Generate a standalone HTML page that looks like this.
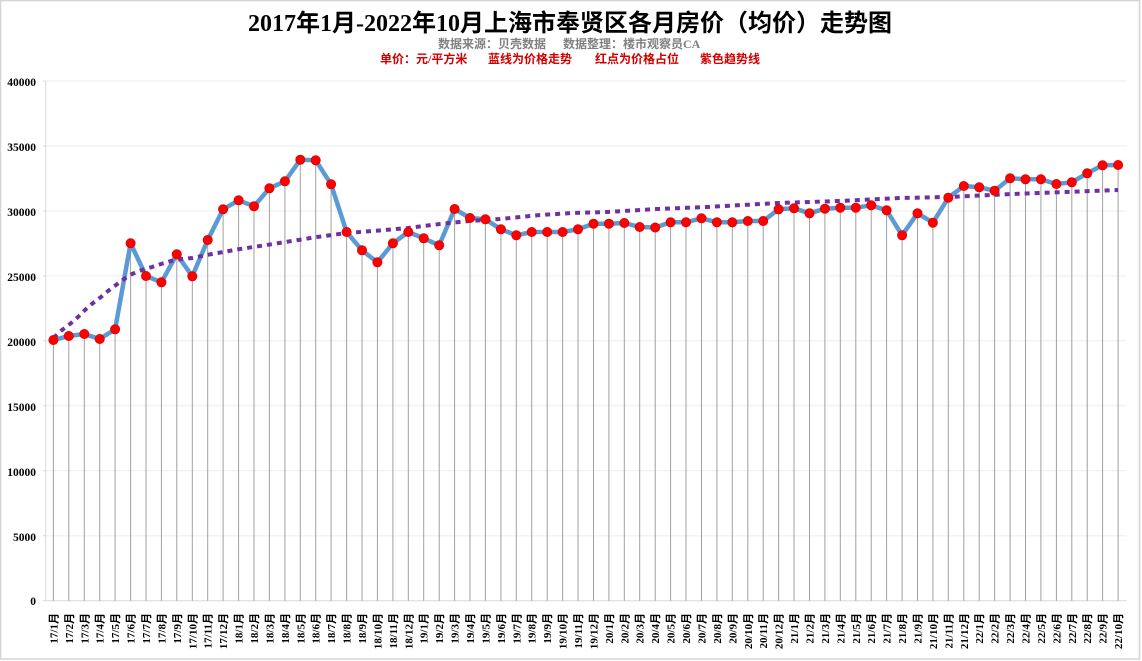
<!DOCTYPE html>
<html><head><meta charset="utf-8"><style>
html,body{margin:0;padding:0;background:#fff;}
svg{display:block;}
.t{font-family:"Liberation Serif","Noto Sans CJK SC",serif;font-weight:bold;}
.c{font-family:"Liberation Serif","Noto Sans CJK SC",sans-serif;font-weight:bold;}
</style></head><body>
<svg width="1142" height="661" viewBox="0 0 1142 661" xmlns="http://www.w3.org/2000/svg">
<rect x="0.5" y="0.5" width="1139" height="658.5" fill="#fff" stroke="#d4d4d4" stroke-width="1.5"/>
<text class="c" x="570" y="31" font-size="24" text-anchor="middle" fill="#000">2017年1月-2022年10月上海市奉贤区各月房价（均价）走势图</text>
<text class="c" x="438" y="48" font-size="12" fill="#808080">数据来源：贝壳数据</text>
<text class="c" x="563" y="48" font-size="12" fill="#808080">数据整理：楼市观察员CA</text>
<g class="c" font-size="12" fill="#d00000">
<text x="380" y="63">单价：元/平方米</text>
<text x="488" y="63">蓝线为价格走势</text>
<text x="595" y="63">红点为价格占位</text>
<text x="700" y="63">紫色趋势线</text>
</g>
<g stroke="#eeeeee" stroke-width="1">
<line x1="45.7" y1="81" x2="1126.7" y2="81"/>
<line x1="45.7" y1="146" x2="1126.7" y2="146"/>
<line x1="45.7" y1="210.9" x2="1126.7" y2="210.9"/>
<line x1="45.7" y1="275.9" x2="1126.7" y2="275.9"/>
<line x1="45.7" y1="340.8" x2="1126.7" y2="340.8"/>
<line x1="45.7" y1="405.8" x2="1126.7" y2="405.8"/>
<line x1="45.7" y1="470.8" x2="1126.7" y2="470.8"/>
<line x1="45.7" y1="535.7" x2="1126.7" y2="535.7"/>
</g>
<g stroke="#d9d9d9" stroke-width="1">
<line x1="45.7" y1="81" x2="45.7" y2="600.7"/>
<line x1="45.7" y1="600.7" x2="1126.7" y2="600.7"/>
<line x1="43" y1="81" x2="45.7" y2="81"/>
<line x1="43" y1="146" x2="45.7" y2="146"/>
<line x1="43" y1="210.9" x2="45.7" y2="210.9"/>
<line x1="43" y1="275.9" x2="45.7" y2="275.9"/>
<line x1="43" y1="340.8" x2="45.7" y2="340.8"/>
<line x1="43" y1="405.8" x2="45.7" y2="405.8"/>
<line x1="43" y1="470.8" x2="45.7" y2="470.8"/>
<line x1="43" y1="535.7" x2="45.7" y2="535.7"/>
<line x1="43" y1="600.7" x2="45.7" y2="600.7"/>
</g>
<g class="t" font-size="11.5" fill="#000" text-anchor="end">
<text x="36" y="86">40000</text>
<text x="36" y="151">35000</text>
<text x="36" y="216">30000</text>
<text x="36" y="281">25000</text>
<text x="36" y="346">20000</text>
<text x="36" y="411">15000</text>
<text x="36" y="476">10000</text>
<text x="36" y="541">5000</text>
<text x="36" y="605">0</text>
</g>
<g stroke="#a0a0a0" stroke-width="1">
<line x1="53.4" y1="340" x2="53.4" y2="600.7"/><line x1="68.8" y1="336" x2="68.8" y2="600.7"/><line x1="84.3" y1="334" x2="84.3" y2="600.7"/><line x1="99.7" y1="339" x2="99.7" y2="600.7"/><line x1="115.1" y1="329.3" x2="115.1" y2="600.7"/><line x1="130.6" y1="243.3" x2="130.6" y2="600.7"/><line x1="146" y1="276" x2="146" y2="600.7"/><line x1="161.4" y1="282.3" x2="161.4" y2="600.7"/><line x1="176.8" y1="254.3" x2="176.8" y2="600.7"/><line x1="192.3" y1="276.3" x2="192.3" y2="600.7"/><line x1="207.7" y1="240" x2="207.7" y2="600.7"/><line x1="223.1" y1="209.3" x2="223.1" y2="600.7"/><line x1="238.6" y1="200.3" x2="238.6" y2="600.7"/><line x1="254" y1="206.3" x2="254" y2="600.7"/><line x1="269.4" y1="188.3" x2="269.4" y2="600.7"/><line x1="284.9" y1="181.3" x2="284.9" y2="600.7"/><line x1="300.3" y1="159.7" x2="300.3" y2="600.7"/><line x1="315.7" y1="160.3" x2="315.7" y2="600.7"/><line x1="331.1" y1="184.3" x2="331.1" y2="600.7"/><line x1="346.6" y1="232" x2="346.6" y2="600.7"/><line x1="362" y1="250.3" x2="362" y2="600.7"/><line x1="377.4" y1="262.3" x2="377.4" y2="600.7"/><line x1="392.9" y1="243.3" x2="392.9" y2="600.7"/><line x1="408.3" y1="232" x2="408.3" y2="600.7"/><line x1="423.7" y1="238.3" x2="423.7" y2="600.7"/><line x1="439.2" y1="245.3" x2="439.2" y2="600.7"/><line x1="454.6" y1="209" x2="454.6" y2="600.7"/><line x1="470" y1="218" x2="470" y2="600.7"/><line x1="485.4" y1="219.3" x2="485.4" y2="600.7"/><line x1="500.9" y1="229.3" x2="500.9" y2="600.7"/><line x1="516.3" y1="235.3" x2="516.3" y2="600.7"/><line x1="531.7" y1="232" x2="531.7" y2="600.7"/><line x1="547.2" y1="232" x2="547.2" y2="600.7"/><line x1="562.6" y1="232" x2="562.6" y2="600.7"/><line x1="578" y1="229.3" x2="578" y2="600.7"/><line x1="593.5" y1="223.7" x2="593.5" y2="600.7"/><line x1="608.9" y1="223.7" x2="608.9" y2="600.7"/><line x1="624.3" y1="223" x2="624.3" y2="600.7"/><line x1="639.7" y1="227" x2="639.7" y2="600.7"/><line x1="655.2" y1="227.5" x2="655.2" y2="600.7"/><line x1="670.6" y1="222.3" x2="670.6" y2="600.7"/><line x1="686" y1="222.3" x2="686" y2="600.7"/><line x1="701.5" y1="218.3" x2="701.5" y2="600.7"/><line x1="716.9" y1="222.3" x2="716.9" y2="600.7"/><line x1="732.3" y1="222.3" x2="732.3" y2="600.7"/><line x1="747.8" y1="221" x2="747.8" y2="600.7"/><line x1="763.2" y1="221" x2="763.2" y2="600.7"/><line x1="778.6" y1="209.3" x2="778.6" y2="600.7"/><line x1="794" y1="208.3" x2="794" y2="600.7"/><line x1="809.5" y1="213.3" x2="809.5" y2="600.7"/><line x1="824.9" y1="208.7" x2="824.9" y2="600.7"/><line x1="840.3" y1="207.7" x2="840.3" y2="600.7"/><line x1="855.8" y1="207.7" x2="855.8" y2="600.7"/><line x1="871.2" y1="205.3" x2="871.2" y2="600.7"/><line x1="886.6" y1="210.3" x2="886.6" y2="600.7"/><line x1="902.1" y1="235.3" x2="902.1" y2="600.7"/><line x1="917.5" y1="213.3" x2="917.5" y2="600.7"/><line x1="932.9" y1="222.7" x2="932.9" y2="600.7"/><line x1="948.3" y1="197.7" x2="948.3" y2="600.7"/><line x1="963.8" y1="186" x2="963.8" y2="600.7"/><line x1="979.2" y1="187.3" x2="979.2" y2="600.7"/><line x1="994.6" y1="190.7" x2="994.6" y2="600.7"/><line x1="1010.1" y1="178.3" x2="1010.1" y2="600.7"/><line x1="1025.5" y1="179.3" x2="1025.5" y2="600.7"/><line x1="1040.9" y1="179.3" x2="1040.9" y2="600.7"/><line x1="1056.4" y1="184" x2="1056.4" y2="600.7"/><line x1="1071.8" y1="182.3" x2="1071.8" y2="600.7"/><line x1="1087.2" y1="173.3" x2="1087.2" y2="600.7"/><line x1="1102.6" y1="165.3" x2="1102.6" y2="600.7"/><line x1="1118.1" y1="165" x2="1118.1" y2="600.7"/>
</g>
<polyline fill="none" stroke="#5b9bd5" stroke-width="4.5" stroke-linejoin="round" stroke-linecap="round" points="53.4,340 68.8,336 84.3,334 99.7,339 115.1,329.3 130.6,243.3 146,276 161.4,282.3 176.8,254.3 192.3,276.3 207.7,240 223.1,209.3 238.6,200.3 254,206.3 269.4,188.3 284.9,181.3 300.3,159.7 315.7,160.3 331.1,184.3 346.6,232 362,250.3 377.4,262.3 392.9,243.3 408.3,232 423.7,238.3 439.2,245.3 454.6,209 470,218 485.4,219.3 500.9,229.3 516.3,235.3 531.7,232 547.2,232 562.6,232 578,229.3 593.5,223.7 608.9,223.7 624.3,223 639.7,227 655.2,227.5 670.6,222.3 686,222.3 701.5,218.3 716.9,222.3 732.3,222.3 747.8,221 763.2,221 778.6,209.3 794,208.3 809.5,213.3 824.9,208.7 840.3,207.7 855.8,207.7 871.2,205.3 886.6,210.3 902.1,235.3 917.5,213.3 932.9,222.7 948.3,197.7 963.8,186 979.2,187.3 994.6,190.7 1010.1,178.3 1025.5,179.3 1040.9,179.3 1056.4,184 1071.8,182.3 1087.2,173.3 1102.6,165.3 1118.1,165"/>
<polyline fill="none" stroke="#7030a0" stroke-width="4" stroke-dasharray="5 5" points="53.4,338 62,330 70,324 78,317 85,310 93,303 101,297 108,291 116,285 124,279 132,274 142,270 152,267 161,264 171,261 182,259 192,258 202,256 212,254 240,249 273,244 317,237 347,233 373,231 408,228 440,224 469,221 500,219 540,215 573,213 607,212 657,209 707,207 778,203 840,201 900,198 948,197 1013,194 1118,190"/>
<g fill="#ff0000" stroke="#e00000" stroke-width="0.8">
<circle cx="53.4" cy="340" r="4.6"/><circle cx="68.8" cy="336" r="4.6"/><circle cx="84.3" cy="334" r="4.6"/><circle cx="99.7" cy="339" r="4.6"/><circle cx="115.1" cy="329.3" r="4.6"/><circle cx="130.6" cy="243.3" r="4.6"/><circle cx="146" cy="276" r="4.6"/><circle cx="161.4" cy="282.3" r="4.6"/><circle cx="176.8" cy="254.3" r="4.6"/><circle cx="192.3" cy="276.3" r="4.6"/><circle cx="207.7" cy="240" r="4.6"/><circle cx="223.1" cy="209.3" r="4.6"/><circle cx="238.6" cy="200.3" r="4.6"/><circle cx="254" cy="206.3" r="4.6"/><circle cx="269.4" cy="188.3" r="4.6"/><circle cx="284.9" cy="181.3" r="4.6"/><circle cx="300.3" cy="159.7" r="4.6"/><circle cx="315.7" cy="160.3" r="4.6"/><circle cx="331.1" cy="184.3" r="4.6"/><circle cx="346.6" cy="232" r="4.6"/><circle cx="362" cy="250.3" r="4.6"/><circle cx="377.4" cy="262.3" r="4.6"/><circle cx="392.9" cy="243.3" r="4.6"/><circle cx="408.3" cy="232" r="4.6"/><circle cx="423.7" cy="238.3" r="4.6"/><circle cx="439.2" cy="245.3" r="4.6"/><circle cx="454.6" cy="209" r="4.6"/><circle cx="470" cy="218" r="4.6"/><circle cx="485.4" cy="219.3" r="4.6"/><circle cx="500.9" cy="229.3" r="4.6"/><circle cx="516.3" cy="235.3" r="4.6"/><circle cx="531.7" cy="232" r="4.6"/><circle cx="547.2" cy="232" r="4.6"/><circle cx="562.6" cy="232" r="4.6"/><circle cx="578" cy="229.3" r="4.6"/><circle cx="593.5" cy="223.7" r="4.6"/><circle cx="608.9" cy="223.7" r="4.6"/><circle cx="624.3" cy="223" r="4.6"/><circle cx="639.7" cy="227" r="4.6"/><circle cx="655.2" cy="227.5" r="4.6"/><circle cx="670.6" cy="222.3" r="4.6"/><circle cx="686" cy="222.3" r="4.6"/><circle cx="701.5" cy="218.3" r="4.6"/><circle cx="716.9" cy="222.3" r="4.6"/><circle cx="732.3" cy="222.3" r="4.6"/><circle cx="747.8" cy="221" r="4.6"/><circle cx="763.2" cy="221" r="4.6"/><circle cx="778.6" cy="209.3" r="4.6"/><circle cx="794" cy="208.3" r="4.6"/><circle cx="809.5" cy="213.3" r="4.6"/><circle cx="824.9" cy="208.7" r="4.6"/><circle cx="840.3" cy="207.7" r="4.6"/><circle cx="855.8" cy="207.7" r="4.6"/><circle cx="871.2" cy="205.3" r="4.6"/><circle cx="886.6" cy="210.3" r="4.6"/><circle cx="902.1" cy="235.3" r="4.6"/><circle cx="917.5" cy="213.3" r="4.6"/><circle cx="932.9" cy="222.7" r="4.6"/><circle cx="948.3" cy="197.7" r="4.6"/><circle cx="963.8" cy="186" r="4.6"/><circle cx="979.2" cy="187.3" r="4.6"/><circle cx="994.6" cy="190.7" r="4.6"/><circle cx="1010.1" cy="178.3" r="4.6"/><circle cx="1025.5" cy="179.3" r="4.6"/><circle cx="1040.9" cy="179.3" r="4.6"/><circle cx="1056.4" cy="184" r="4.6"/><circle cx="1071.8" cy="182.3" r="4.6"/><circle cx="1087.2" cy="173.3" r="4.6"/><circle cx="1102.6" cy="165.3" r="4.6"/><circle cx="1118.1" cy="165" r="4.6"/>
</g>
<g class="t" font-size="11" fill="#000" text-anchor="end">
<text transform="translate(57.4,613) rotate(-90)">17/1月</text>
<text transform="translate(72.8,613) rotate(-90)">17/2月</text>
<text transform="translate(88.3,613) rotate(-90)">17/3月</text>
<text transform="translate(103.7,613) rotate(-90)">17/4月</text>
<text transform="translate(119.1,613) rotate(-90)">17/5月</text>
<text transform="translate(134.6,613) rotate(-90)">17/6月</text>
<text transform="translate(150,613) rotate(-90)">17/7月</text>
<text transform="translate(165.4,613) rotate(-90)">17/8月</text>
<text transform="translate(180.8,613) rotate(-90)">17/9月</text>
<text transform="translate(196.3,613) rotate(-90)">17/10月</text>
<text transform="translate(211.7,613) rotate(-90)">17/11月</text>
<text transform="translate(227.1,613) rotate(-90)">17/12月</text>
<text transform="translate(242.6,613) rotate(-90)">18/1月</text>
<text transform="translate(258,613) rotate(-90)">18/2月</text>
<text transform="translate(273.4,613) rotate(-90)">18/3月</text>
<text transform="translate(288.9,613) rotate(-90)">18/4月</text>
<text transform="translate(304.3,613) rotate(-90)">18/5月</text>
<text transform="translate(319.7,613) rotate(-90)">18/6月</text>
<text transform="translate(335.1,613) rotate(-90)">18/7月</text>
<text transform="translate(350.6,613) rotate(-90)">18/8月</text>
<text transform="translate(366,613) rotate(-90)">18/9月</text>
<text transform="translate(381.4,613) rotate(-90)">18/10月</text>
<text transform="translate(396.9,613) rotate(-90)">18/11月</text>
<text transform="translate(412.3,613) rotate(-90)">18/12月</text>
<text transform="translate(427.7,613) rotate(-90)">19/1月</text>
<text transform="translate(443.2,613) rotate(-90)">19/2月</text>
<text transform="translate(458.6,613) rotate(-90)">19/3月</text>
<text transform="translate(474,613) rotate(-90)">19/4月</text>
<text transform="translate(489.4,613) rotate(-90)">19/5月</text>
<text transform="translate(504.9,613) rotate(-90)">19/6月</text>
<text transform="translate(520.3,613) rotate(-90)">19/7月</text>
<text transform="translate(535.7,613) rotate(-90)">19/8月</text>
<text transform="translate(551.2,613) rotate(-90)">19/9月</text>
<text transform="translate(566.6,613) rotate(-90)">19/10月</text>
<text transform="translate(582,613) rotate(-90)">19/11月</text>
<text transform="translate(597.5,613) rotate(-90)">19/12月</text>
<text transform="translate(612.9,613) rotate(-90)">20/1月</text>
<text transform="translate(628.3,613) rotate(-90)">20/2月</text>
<text transform="translate(643.7,613) rotate(-90)">20/3月</text>
<text transform="translate(659.2,613) rotate(-90)">20/4月</text>
<text transform="translate(674.6,613) rotate(-90)">20/5月</text>
<text transform="translate(690,613) rotate(-90)">20/6月</text>
<text transform="translate(705.5,613) rotate(-90)">20/7月</text>
<text transform="translate(720.9,613) rotate(-90)">20/8月</text>
<text transform="translate(736.3,613) rotate(-90)">20/9月</text>
<text transform="translate(751.8,613) rotate(-90)">20/10月</text>
<text transform="translate(767.2,613) rotate(-90)">20/11月</text>
<text transform="translate(782.6,613) rotate(-90)">20/12月</text>
<text transform="translate(798,613) rotate(-90)">21/1月</text>
<text transform="translate(813.5,613) rotate(-90)">21/2月</text>
<text transform="translate(828.9,613) rotate(-90)">21/3月</text>
<text transform="translate(844.3,613) rotate(-90)">21/4月</text>
<text transform="translate(859.8,613) rotate(-90)">21/5月</text>
<text transform="translate(875.2,613) rotate(-90)">21/6月</text>
<text transform="translate(890.6,613) rotate(-90)">21/7月</text>
<text transform="translate(906.1,613) rotate(-90)">21/8月</text>
<text transform="translate(921.5,613) rotate(-90)">21/9月</text>
<text transform="translate(936.9,613) rotate(-90)">21/10月</text>
<text transform="translate(952.3,613) rotate(-90)">21/11月</text>
<text transform="translate(967.8,613) rotate(-90)">21/12月</text>
<text transform="translate(983.2,613) rotate(-90)">22/1月</text>
<text transform="translate(998.6,613) rotate(-90)">22/2月</text>
<text transform="translate(1014.1,613) rotate(-90)">22/3月</text>
<text transform="translate(1029.5,613) rotate(-90)">22/4月</text>
<text transform="translate(1044.9,613) rotate(-90)">22/5月</text>
<text transform="translate(1060.4,613) rotate(-90)">22/6月</text>
<text transform="translate(1075.8,613) rotate(-90)">22/7月</text>
<text transform="translate(1091.2,613) rotate(-90)">22/8月</text>
<text transform="translate(1106.6,613) rotate(-90)">22/9月</text>
<text transform="translate(1122.1,613) rotate(-90)">22/10月</text>
</g>
</svg>
</body></html>
